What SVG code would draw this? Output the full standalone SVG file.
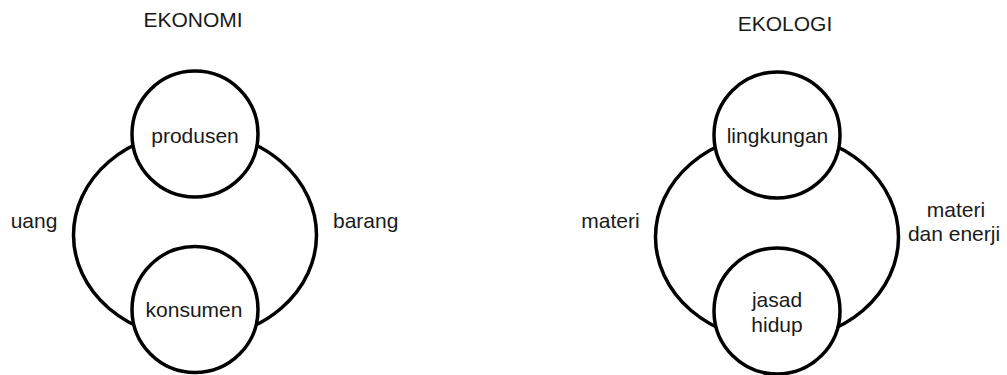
<svg xmlns="http://www.w3.org/2000/svg" width="1007" height="375" viewBox="0 0 1007 375">
<style>
text{font-family:"Liberation Sans",Arial,sans-serif;font-size:21px;fill:#1a1a1a}
.c{text-anchor:middle}
.ring{fill:none;stroke:#000;stroke-width:3.5}
.node{fill:#fff;stroke:#000;stroke-width:3.5}
</style>
<rect width="1007" height="375" fill="#fff"/>
<g id="connectors">
<ellipse class="ring" cx="195" cy="235" rx="121.5" ry="104"/>
<ellipse class="ring" cx="777" cy="237" rx="121.5" ry="104"/>
</g>
<g id="title-ekonomi"><text class="c" x="193" y="27">EKONOMI</text></g>
<g id="title-ekologi"><text class="c" x="785" y="31">EKOLOGI</text></g>
<g id="produsen"><circle class="node" cx="195" cy="134" r="63"/><text class="c" x="195" y="143">produsen</text></g>
<g id="konsumen"><circle class="node" cx="195" cy="309.5" r="63"/><text class="c" x="194" y="317">konsumen</text></g>
<g id="label-uang"><text class="c" x="34" y="228">uang</text></g>
<g id="label-barang"><text x="333" y="228">barang</text></g>
<g id="lingkungan"><circle class="node" cx="777" cy="135" r="63"/><text class="c" x="777.5" y="143">lingkungan</text></g>
<g id="jasad-hidup"><circle class="node" cx="777" cy="311" r="63"/><text class="c" x="777" y="306.5">jasad</text><text class="c" x="777" y="331.5">hidup</text></g>
<g id="label-materi"><text class="c" x="610.5" y="228">materi</text></g>
<g id="label-materi-enerji"><text class="c" x="956" y="216.5">materi</text><text class="c" x="954" y="241">dan enerji</text></g>
</svg>
